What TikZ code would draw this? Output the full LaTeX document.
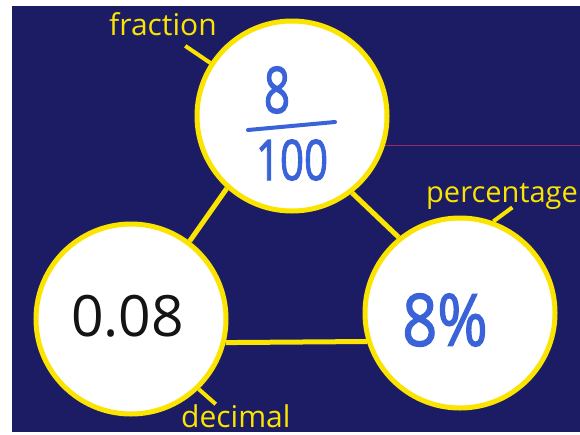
\documentclass[tikz,border=0pt]{standalone}
\usepackage{fontspec}
\setmainfont{Open Sans}
\newfontfamily\penfont[FakeBold=2]{Open Sans}
\definecolor{navy}{RGB}{28,28,100}
\definecolor{yel}{RGB}{250,228,0}
\definecolor{pen}{RGB}{58,99,216}
\definecolor{scanred}{RGB}{150,40,100}
\definecolor{ink}{RGB}{20,20,20}
\begin{document}
\begin{tikzpicture}[x=1pt,y=-1pt,
  bubble/.style={circle,draw=yel,line width=5pt,fill=white,minimum size=190pt,inner sep=0pt},
  link/.style={draw=yel,line width=5pt},
  tickline/.style={draw=yel,line width=4pt},
  lbl/.style={text=yel,font=\fontsize{30}{30}\selectfont,inner sep=0pt},
  hand/.style={text=pen,inner sep=0pt}]
\useasboundingbox (0,0) rectangle (580,434);
\fill[white] (0,0) rectangle (580,434);
\fill[navy] (12,6) rectangle (580,432);
\coordinate (scanA) at (385,145);
\coordinate (scanB) at (580,145);
\draw[scanred,line width=0.8pt] (scanA) -- (scanB);
% circles
\node[bubble] (top) at (292,116) {};
\node[bubble] (left) at (131,319) {};
\node[bubble] (right) at (460,313) {};
% connectors
\draw[link] (top.228) -- (left.53);
\draw[link] (top.308) -- (right.129);
\draw[link] (left.346) -- (right.197);
% ticks and labels
\coordinate (ftick) at ([shift={(-25,-17)}]top.147);
\draw[tickline] (top.147) -- (ftick);
\coordinate (ptick) at ([shift={(19,-14)}]right.70);
\draw[tickline] (right.70) -- (ptick);
\coordinate (dtick) at ([shift={(17,15)}]left.314);
\draw[tickline] (left.314) -- (dtick);
\node[lbl,anchor=base west] (flabel) at (109,35) {fraction};
\node[lbl,anchor=base west,font=\fontsize{29}{29}\selectfont] (plabel) at (426,202) {percentage};
\node[lbl,anchor=base west] (dlabel) at (181,427) {decimal};
% contents
\node[hand,font=\fontsize{64}{64}\penfont] (num) at (277,90) {\scalebox{0.72}[1]{8}};
\coordinate (barL) at (248,130);
\coordinate (barR) at (335,122);
\draw[pen,line width=4pt,line cap=round] (barL) -- (barR);
\node[hand,font=\fontsize{56}{56}\penfont] (den) at (292,160) {\scalebox{0.75}[1]{100}};
\node[text=ink,font=\fontsize{57}{57}\selectfont,inner sep=0pt] (dec) at (127.5,316) {0.08};
\node[hand,font=\fontsize{72}{72}\penfont] (pct) at (445,320) {\scalebox{0.85}[1]{8\%}};
\end{tikzpicture}
\end{document}
